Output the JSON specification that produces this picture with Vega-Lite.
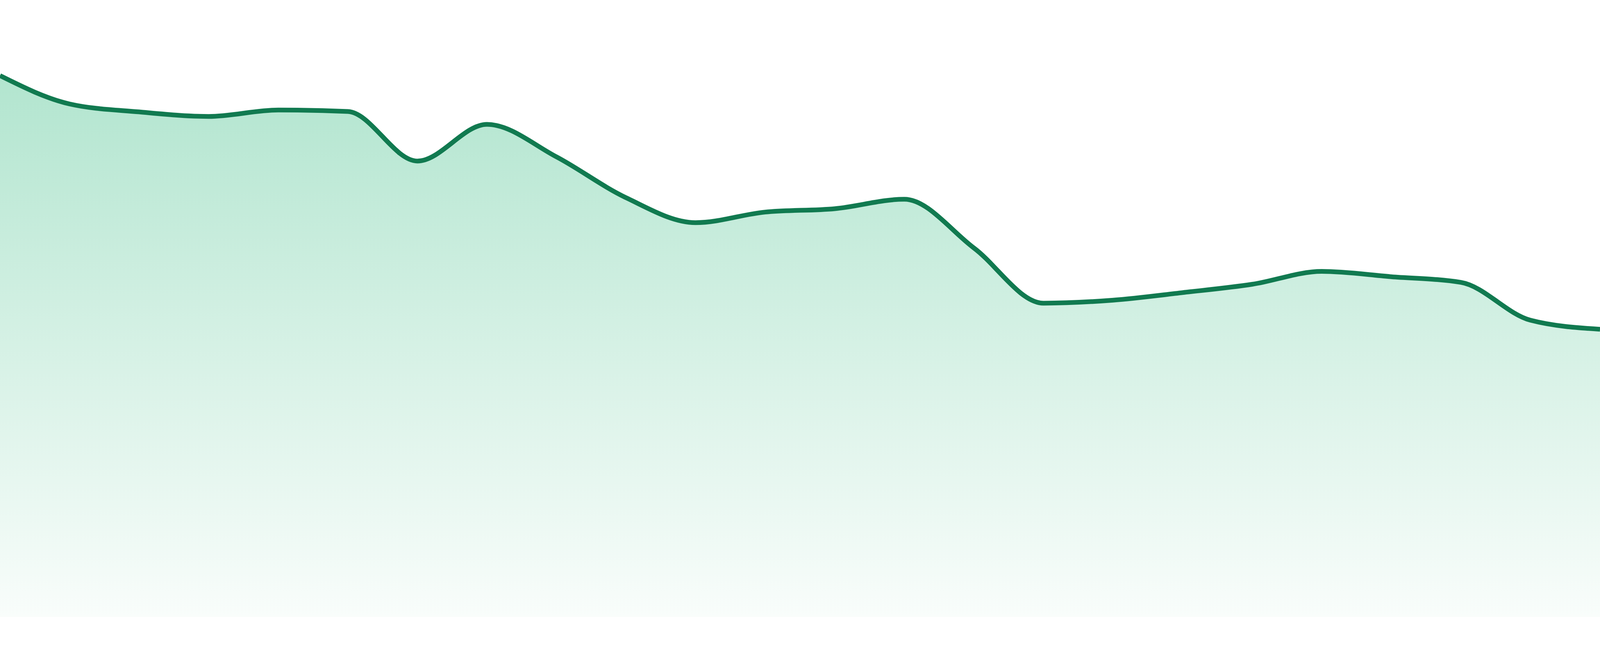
{
  "$schema": "https://vega.github.io/schema/vega-lite/v6.json",
  "width": 4096,
  "height": 1580,
  "autosize": "none",
  "padding": {"top": 0, "left": 0, "right": 0, "bottom": 47},
  "background": "#ffffff",
  "config": {"view": {"stroke": null}},
  "data": {
    "values": [
      {"step": 0, "value": 1432},
      {"step": 1, "value": 1357},
      {"step": 2, "value": 1336},
      {"step": 3, "value": 1324},
      {"step": 4, "value": 1341},
      {"step": 5, "value": 1337},
      {"step": 6, "value": 1206},
      {"step": 7, "value": 1303},
      {"step": 8, "value": 1217},
      {"step": 9, "value": 1109},
      {"step": 10, "value": 1043},
      {"step": 11, "value": 1071},
      {"step": 12, "value": 1080},
      {"step": 13, "value": 1105},
      {"step": 14, "value": 976},
      {"step": 15, "value": 830},
      {"step": 16, "value": 838},
      {"step": 17, "value": 858},
      {"step": 18, "value": 880},
      {"step": 19, "value": 914},
      {"step": 20, "value": 900},
      {"step": 21, "value": 885},
      {"step": 22, "value": 785},
      {"step": 23, "value": 761}
    ]
  },
  "encoding": {
    "x": {
      "field": "step",
      "type": "quantitative",
      "axis": null,
      "scale": {"domain": [0, 23], "nice": false, "zero": false}
    },
    "y": {
      "field": "value",
      "type": "quantitative",
      "axis": null,
      "scale": {"domain": [0, 1632], "nice": false}
    }
  },
  "layer": [
    {
      "mark": {
        "type": "area",
        "interpolate": "monotone",
        "fill": {
          "gradient": "linear",
          "x1": 0,
          "y1": 0,
          "x2": 0,
          "y2": 1,
          "stops": [
            {"offset": 0, "color": "#b2e5cf"},
            {"offset": 1, "color": "#f9fdfb"}
          ]
        }
      }
    },
    {
      "mark": {
        "type": "line",
        "interpolate": "monotone",
        "color": "#117a50",
        "strokeWidth": 12
      }
    }
  ]
}
